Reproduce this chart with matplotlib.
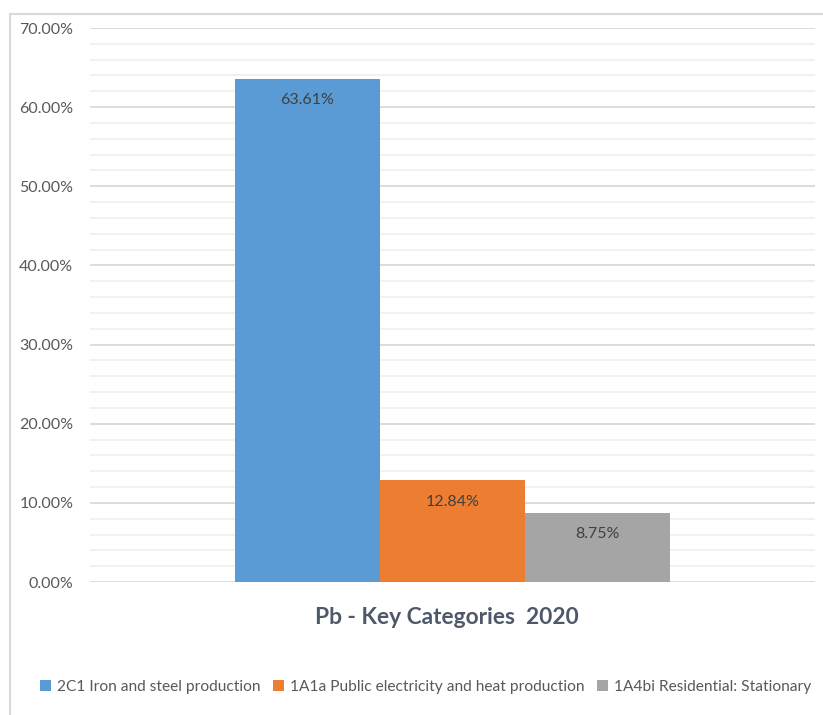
import matplotlib
matplotlib.use("Agg")
import matplotlib.pyplot as plt
from matplotlib.lines import Line2D
from matplotlib.patches import Patch
from matplotlib.ticker import MultipleLocator, FuncFormatter

categories = ["2C1 Iron and steel production",
              "1A1a Public electricity and heat production",
              "1A4bi Residential: Stationary"]
values = [63.61, 12.84, 8.75]
colors = ["#5b9bd5", "#ed7d31", "#a5a5a5"]
title = "Pb - Key Categories  2020"

plt.rcParams['font.family'] = ['Lato', 'DejaVu Sans']

W, H = 823, 715
fig = plt.figure(figsize=(W / 100, H / 100), dpi=100)
ax = fig.add_axes([90 / W, 1 - 582 / H, (815 - 90) / W, (582 - 28) / H])

width = 0.2
offsets = [-0.2, 0.0, 0.2]
for off, v, c, lab in zip(offsets, values, colors, categories):
    ax.bar(off, v, width=width, color=c, label=lab, zorder=3)
    ax.text(off, v - 2.7, f"{v:.2f}%", ha="center", va="center",
            fontsize=11.5, color="#404040", zorder=4)

ax.set_xlim(-0.5, 0.5)
ax.set_ylim(0, 70)
ax.yaxis.set_major_locator(MultipleLocator(10))
ax.yaxis.set_minor_locator(MultipleLocator(2))
ax.yaxis.set_major_formatter(FuncFormatter(lambda y, p: f"{y:.2f}%"))
ax.grid(axis="y", which="major", color="#d9d9d9", linewidth=1.3, zorder=0)
ax.grid(axis="y", which="minor", color="#f0f0f0", linewidth=1.3, zorder=0)
ax.set_xticks([])
for s in ax.spines.values():
    s.set_visible(False)
ax.tick_params(axis="y", which="both", length=0, labelsize=11.5,
               labelcolor="#595959", pad=12)

fig.text(447 / W, 1 - 618 / H, title, ha="center", va="center",
         fontsize=16.4, fontweight="bold", color="#4e5868")

handles = [Patch(facecolor=c, edgecolor="none") for c in colors]
fig.legend(handles, categories, loc="center", bbox_to_anchor=(426 / W, 1 - 687 / H),
           ncol=3, frameon=False, fontsize=11.2, labelcolor="#595959",
           handlelength=0.7, handleheight=0.7, handletextpad=0.4, columnspacing=0.8)

# chart border
fig.add_artist(Line2D([10 / W, 10 / W], [0, 1 - 14 / H], transform=fig.transFigure,
                      color="#d9d9d9", linewidth=1.5))
fig.add_artist(Line2D([10 / W, 1.0], [1 - 14 / H, 1 - 14 / H], transform=fig.transFigure,
                      color="#d9d9d9", linewidth=1.5))

fig.savefig("out.png", dpi=100, facecolor="white")
